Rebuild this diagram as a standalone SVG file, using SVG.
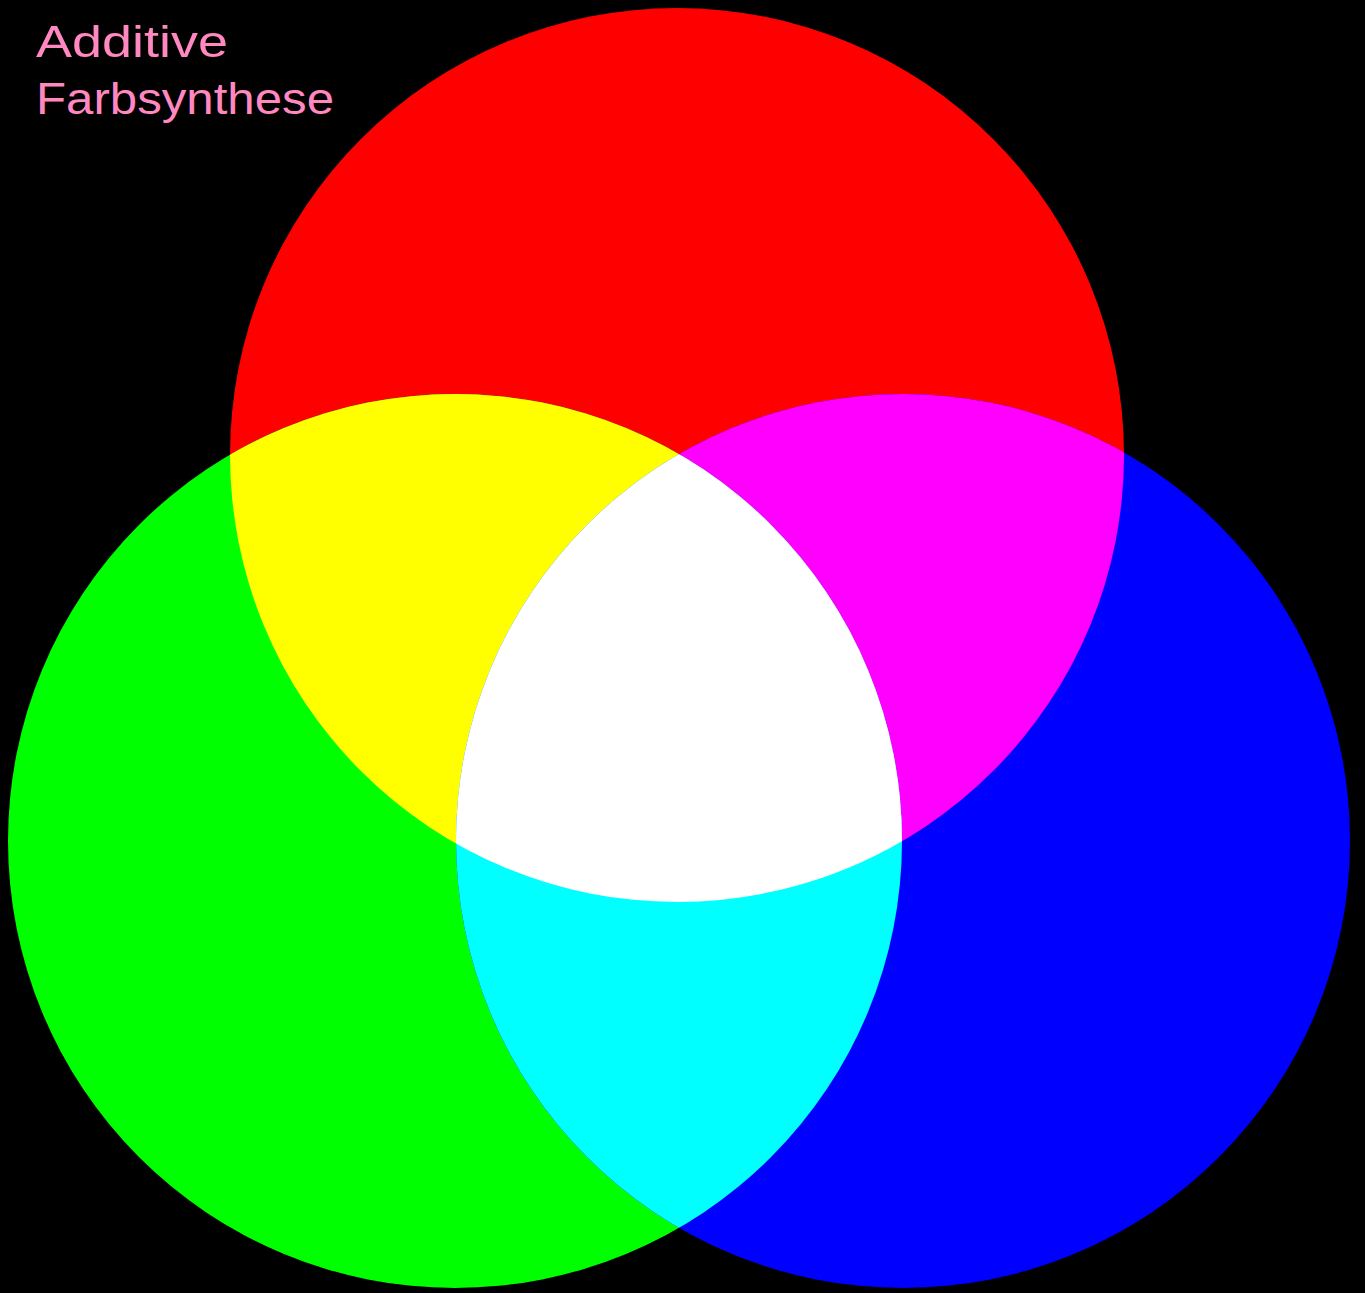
<svg xmlns="http://www.w3.org/2000/svg" width="1365" height="1293" viewBox="0 0 1365 1293">
<style>
.lbl{font-family:"Liberation Sans","DejaVu Sans",sans-serif;font-size:44px;fill:#ff88c0}
</style>
<defs>
<clipPath id="cR"><circle cx="677" cy="455" r="447"/></clipPath>
<clipPath id="cG"><circle cx="455" cy="841" r="447"/></clipPath>
<clipPath id="cRG" clip-path="url(#cR)"><circle cx="455" cy="841" r="447"/></clipPath>
</defs>
<rect width="1365" height="1293" fill="#000"/>
<g id="red"><circle cx="677" cy="455" r="447" fill="#ff0000"/></g>
<g id="green"><circle cx="455" cy="841" r="447" fill="#00ff00"/></g>
<g id="blue"><circle cx="903" cy="841" r="447" fill="#0000ff"/></g>
<g id="yellow" clip-path="url(#cR)"><circle cx="455" cy="841" r="447" fill="#ffff00"/></g>
<g id="magenta" clip-path="url(#cR)"><circle cx="903" cy="841" r="447" fill="#ff00ff"/></g>
<g id="cyan" clip-path="url(#cG)"><circle cx="903" cy="841" r="447" fill="#00ffff"/></g>
<g id="white" clip-path="url(#cRG)"><circle cx="903" cy="841" r="447" fill="#ffffff"/></g>
<g id="title">
<text class="lbl" x="36" y="57" textLength="192" lengthAdjust="spacingAndGlyphs">Additive</text>
<text class="lbl" x="36" y="114" textLength="298" lengthAdjust="spacingAndGlyphs">Farbsynthese</text>
</g>
</svg>
